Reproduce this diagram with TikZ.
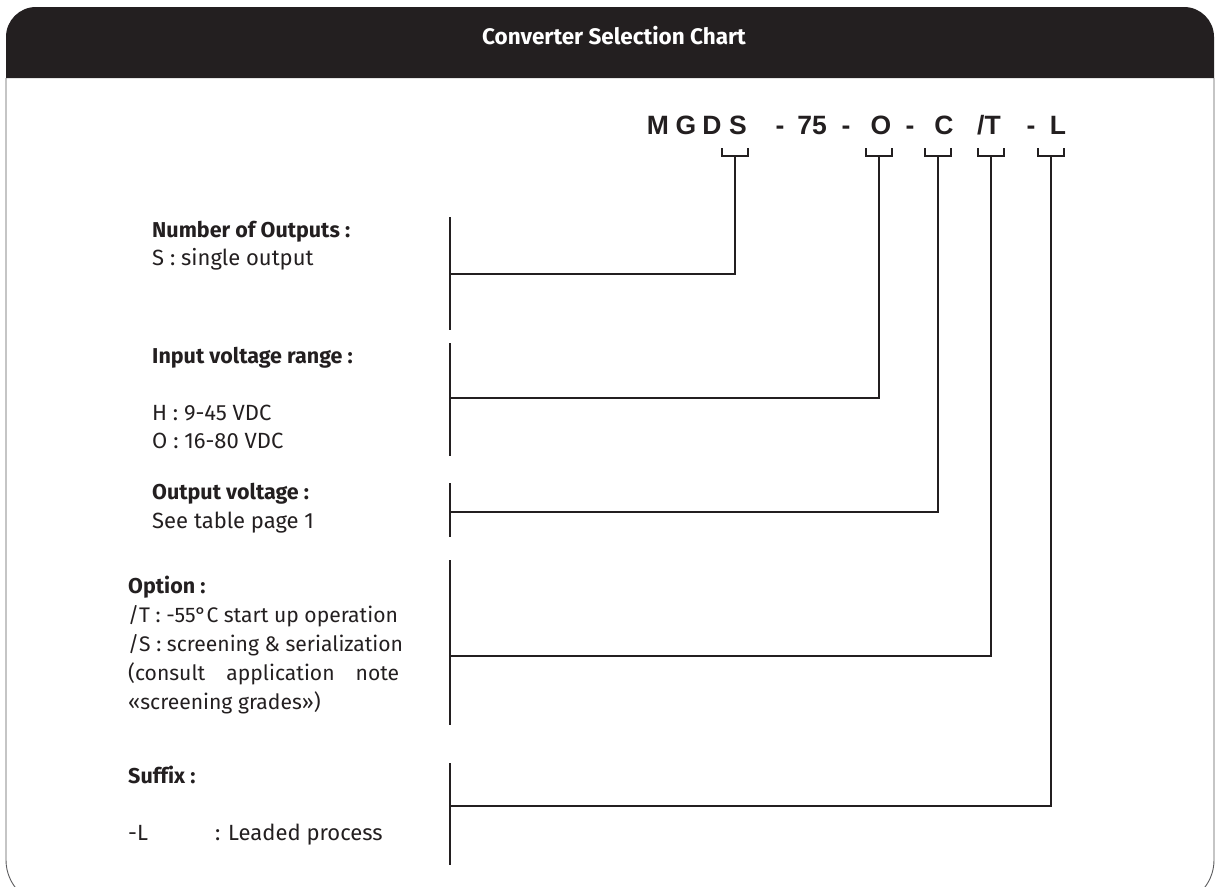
\documentclass[tikz,border=0pt]{standalone}
\usepackage{fontspec}
\setmainfont{Liberation Sans}
\newfontfamily\chartfont[Ligatures=NoCommon]{Fira Sans}
\usetikzlibrary{positioning}
\definecolor{ink}{HTML}{231F20}
\definecolor{rim}{HTML}{5A5A5C}

\tikzset{
  head/.style={font=\chartfont\bfseries\fontsize{21.5}{26}\selectfont, text=ink, anchor=base west, inner sep=0pt},
  body/.style={font=\chartfont\fontsize{22}{26}\selectfont, text=ink, anchor=base west, inner sep=0pt},
  optline/.style={body, font=\chartfont\fontsize{21.1}{26}\selectfont},
  code/.style={font=\bfseries\fontsize{26.5}{30}\selectfont, text=ink, anchor=base, inner sep=0pt},
  bar/.style={draw=ink, line width=2.5pt},
}

\begin{document}
\begin{tikzpicture}[x=1pt,y=-1pt]
\useasboundingbox (0,0) rectangle (1217,886);
% frame and header
\draw[rim, line width=0.9pt] (6,78) [rounded corners=45pt] -- (6,905) -- (1214,905) [sharp corners] -- (1214,78);
\fill[ink] (6,78) [rounded corners=30pt] -- (6,7) -- (1214,7) [sharp corners] -- (1214,78) -- cycle;
\node[font=\chartfont\bfseries\fontsize{22.5}{26}\selectfont, text=white, anchor=base, inner sep=0pt] (title) at (614,44) {Converter Selection Chart};

% part number
\foreach \x/\t/\n in {658/M/cM, 686/G/cG, 712/D/cD, 738/S/cS, 780/-/dA, 812/75/c75, 846/-/dB,
  881/O/cO, 910/-/dC, 944/C/cC, 989/{/T}/cT, 1031/-/dD, 1058/L/cL}
  \node[code] (\n) at (\x,134) {\t};

% brackets under the fields
\foreach \n/\x in {S/735, O/879, C/938, T/991, L/1051}{
  \draw[bar, line width=2.2pt] (\x-13,148) -- (\x-13,156) -- (\x+13,156) -- (\x+13,148);
  \coordinate (k\n) at (\x,156);
}

% bars on the left, one for each field
\draw[bar] (450,217) -- (450,330);
\draw[bar] (450,343) -- (450,456);
\draw[bar] (450,483) -- (450,537);
\draw[bar] (450,560) -- (450,725);
\draw[bar] (450,763) -- (450,865);
\coordinate (jS) at (450,274);
\coordinate (jO) at (450,398);
\coordinate (jC) at (450,512);
\coordinate (jT) at (450,656);
\coordinate (jL) at (450,806);
\foreach \n in {S,O,C,T,L}
  \draw[bar] (k\n) |- (j\n);

% texts
\node[head] (nOut) at (152,237) {Number of Outputs :};
\node[body] (tOut) at (152,265) {S : single output};

\node[head] (nIn) at (152,363) {Input voltage range :};
\node[body] (tInH) at (152,420) {H : 9-45 VDC};
\node[body] (tInO) at (152,448) {O : 16-80 VDC};

\node[head] (nVo) at (152,499) {Output voltage :};
\node[body] (tVo) at (152,528) {See table page 1};

\node[head] (nOpt) at (128,593) {Option :};
\node[optline] (tOptT) at (128,622) {/T : -55°C start up operation};
\node[optline] (tOptS) at (128,651) {/S : screening \& serialization};
\node[optline] (tOptC) at (128,680) {\makebox[271pt][s]{(consult application note}};
\node[optline] (tOptG) at (128,709) {«screening grades»)};

\node[head] (nSuf) at (128,783) {Suffix :};
\node[body] (tSufL) at (128,840) {-L};
\node[body] (tSufP) at (215,840) {: Leaded process};

\end{tikzpicture}
\end{document}
